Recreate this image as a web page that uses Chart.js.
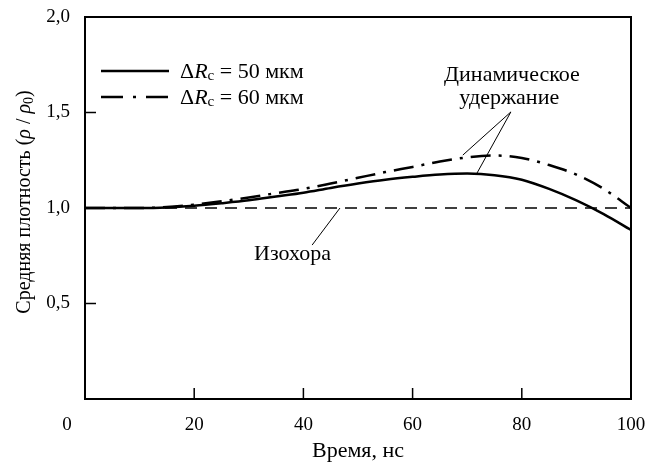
<!DOCTYPE html>
<html>
<head>
<meta charset="utf-8">
<script src="https://cdn.jsdelivr.net/npm/chart.js@4/dist/chart.umd.min.js"></script>
<style>
  body { margin: 0; background: #fff; }
  #wrap { width: 659px; height: 464px; }
</style>
</head>
<body>
<div id="wrap"><canvas id="density-chart" width="659" height="464"></canvas></div>
<script>
// time, ns
const times = [0, 5, 10, 15, 20, 25, 30, 35, 40, 45, 50, 55, 60, 65, 70, 75, 80, 85, 90, 95, 100];
// mean density rho/rho0, dR = 50 um (solid)
const dens50 = [1.0, 1.0, 1.0, 1.003, 1.012, 1.025, 1.04, 1.06, 1.08, 1.105, 1.128, 1.148, 1.163, 1.175, 1.18, 1.172, 1.148, 1.1, 1.04, 0.968, 0.885];
// mean density rho/rho0, dR = 60 um (dash-dot)
const dens60 = [1.0, 1.0, 1.0, 1.005, 1.018, 1.035, 1.055, 1.078, 1.1, 1.128, 1.158, 1.188, 1.215, 1.243, 1.265, 1.275, 1.262, 1.225, 1.175, 1.1, 1.0];
// isochore
const isoTimes = [0, 100];
const isoDens = [1.0, 1.0];

const xTicks = [0, 20, 40, 60, 80, 100];
const yTicks = [0.5, 1.0, 1.5, 2.0];
const yTickLabels = ['0,5', '1,0', '1,5', '2,0'];

const legendNames = ['50 мкм', '60 мкм'];

const SERIF = '"Liberation Serif", "Times New Roman", serif';
const FS = 19;      // tick labels
const TS = 22;      // texts

// draws text runs (normal / italic / subscript), returns width
function drawRuns(ctx, runs, x, y, size, measureOnly) {
    let w = 0;
    runs.forEach(r => {
        const s = r.sub ? Math.round(size * 0.7) : size;
        ctx.font = (r.italic ? 'italic ' : '') + s + 'px ' + SERIF;
        if (!measureOnly) ctx.fillText(r.t, x + w, y + (r.sub ? 4 : 0));
        w += ctx.measureText(r.t).width;
    });
    return w;
}

function toPoints(xs, ys) {
    let pts = [];
    for (let i = 0; i < xs.length; i++) {
        pts.push({ x: xs[i], y: ys[i] });
    }
    return pts;
}

const extras = {
    id: 'extras',
    afterDraw(chart) {
        const ctx = chart.ctx;
        const a = chart.chartArea;
        const xs = chart.scales.x, ys = chart.scales.y;
        ctx.save();
        ctx.strokeStyle = '#000';
        ctx.fillStyle = '#000';

        // frame
        ctx.lineWidth = 2;
        ctx.strokeRect(a.left, a.top, a.right - a.left, a.bottom - a.top);

        // inward ticks
        ctx.lineWidth = 1.5;
        ctx.beginPath();
        yTicks.forEach(v => {
            if (v <= 0 || v >= 2) return;
            const py = ys.getPixelForValue(v);
            ctx.moveTo(a.left, py);
            ctx.lineTo(a.left + 11, py);
        });
        xTicks.forEach(v => {
            if (v <= 0 || v >= 100) return;
            const px = xs.getPixelForValue(v);
            ctx.moveTo(px, a.bottom);
            ctx.lineTo(px, a.bottom - 11);
        });
        ctx.stroke();

        // origin label
        ctx.font = FS + 'px ' + SERIF;
        ctx.textAlign = 'center';
        ctx.textBaseline = 'middle';
        ctx.fillText('0', xs.getPixelForValue(0) - 18, a.bottom + 26);

        // y title
        ctx.save();
        ctx.translate(25, (a.top + a.bottom) / 2);
        ctx.rotate(-Math.PI / 2);
        ctx.textAlign = 'left';
        ctx.textBaseline = 'middle';
        const yRuns = [
            { t: 'Средняя плотность (' },
            { t: 'ρ', italic: true },
            { t: ' / ' },
            { t: 'ρ', italic: true },
            { t: '0', sub: true },
            { t: ')' }
        ];
        const tw = drawRuns(ctx, yRuns, 0, 0, 20, true);
        drawRuns(ctx, yRuns, -tw / 2 + 6, 0, 20, false);
        ctx.restore();

        // legend
        ctx.textAlign = 'left';
        ctx.textBaseline = 'middle';
        const lx = a.left + 16, lyy = [a.top + 54, a.top + 80];
        ctx.lineWidth = 2.5;
        ctx.beginPath();
        ctx.setLineDash([]);
        ctx.moveTo(lx, lyy[0]); ctx.lineTo(lx + 68, lyy[0]);
        ctx.stroke();
        ctx.beginPath();
        ctx.setLineDash([22, 10, 3, 10]);
        ctx.moveTo(lx, lyy[1]); ctx.lineTo(lx + 68, lyy[1]);
        ctx.stroke();
        ctx.setLineDash([]);
        legendNames.forEach((n, i) => {
            drawRuns(ctx, [
                { t: 'Δ' },
                { t: 'R', italic: true },
                { t: 'c', sub: true },
                { t: ' = ' + n }
            ], lx + 79, lyy[i] + 1, TS, false);
        });

        // annotations
        ctx.font = TS + 'px ' + SERIF;
        ctx.textAlign = 'center';
        ctx.textBaseline = 'middle';
        ctx.fillText('Динамическое', xs.getPixelForValue(78.2), ys.getPixelForValue(1.696));
        ctx.fillText('удержание', xs.getPixelForValue(77.7), ys.getPixelForValue(1.576));
        ctx.fillText('Изохора', xs.getPixelForValue(38.0), ys.getPixelForValue(0.759));

        ctx.lineWidth = 1;
        ctx.beginPath();
        const leaders = [
            [78.0, 1.503, 69.2, 1.277],
            [78.0, 1.503, 71.8, 1.183],
            [41.6, 0.806, 46.7, 1.0]
        ];
        leaders.forEach(l => {
            ctx.moveTo(xs.getPixelForValue(l[0]), ys.getPixelForValue(l[1]));
            ctx.lineTo(xs.getPixelForValue(l[2]), ys.getPixelForValue(l[3]));
        });
        ctx.stroke();
        ctx.restore();
    }
};

const ctx = document.getElementById('density-chart').getContext('2d');
const chart = new Chart(ctx, {
    type: 'line',
    data: {
        datasets: [{
            label: 'ΔRc = 50 мкм',
            data: toPoints(times, dens50),
            borderColor: '#000',
            borderWidth: 2.5,
            pointRadius: 0,
            cubicInterpolationMode: 'monotone'
        }, {
            label: 'ΔRc = 60 мкм',
            data: toPoints(times, dens60),
            borderColor: '#000',
            borderWidth: 2.5,
            borderDash: [20, 8, 3, 8],
            pointRadius: 0,
            cubicInterpolationMode: 'monotone'
        }, {
            label: 'Изохора',
            data: toPoints(isoTimes, isoDens),
            borderColor: '#000',
            borderWidth: 1.6,
            borderDash: [12, 8],
            pointRadius: 0
        }]
    },
    options: {
        responsive: false,
        animation: false,
        layout: { padding: { left: 0, top: 17, right: 28, bottom: 0 } },
        plugins: {
            legend: { display: false },
            tooltip: { enabled: false }
        },
        scales: {
            x: {
                type: 'linear',
                min: 0,
                max: 100,
                afterBuildTicks(scale) {
                    scale.ticks = xTicks.map(v => ({ value: v }));
                },
                afterFit(scale) {
                    scale.height = 65;
                    scale.paddingLeft = 0;
                    scale.paddingRight = 0;
                },
                ticks: {
                    color: '#000',
                    padding: 15,
                    maxRotation: 0,
                    font: { family: SERIF, size: FS },
                    callback(v) { return v === 0 ? '' : String(v); }
                },
                grid: { display: false, drawTicks: false },
                border: { display: false },
                title: {
                    display: true,
                    text: 'Время, нс',
                    color: '#000',
                    font: { family: SERIF, size: TS },
                    padding: { top: 0, bottom: 0 }
                }
            },
            y: {
                type: 'linear',
                min: 0,
                max: 2,
                afterBuildTicks(scale) {
                    scale.ticks = yTicks.map(v => ({ value: v }));
                },
                afterFit(scale) {
                    scale.width = 85;
                    scale.paddingTop = 0;
                    scale.paddingBottom = 0;
                },
                ticks: {
                    color: '#000',
                    padding: 15,
                    font: { family: SERIF, size: FS },
                    callback(v) {
                        const i = yTicks.indexOf(v);
                        return i >= 0 ? yTickLabels[i] : '';
                    }
                },
                grid: { display: false, drawTicks: false },
                border: { display: false }
            }
        }
    },
    plugins: [extras]
});
</script>
</body>
</html>
